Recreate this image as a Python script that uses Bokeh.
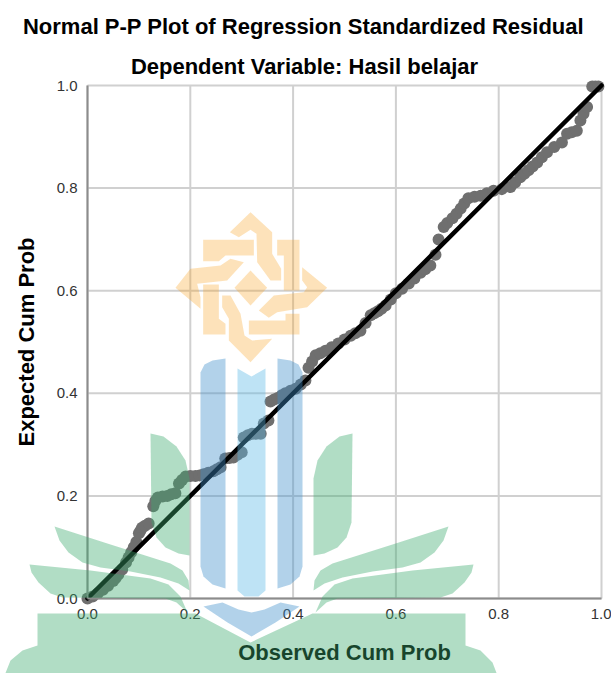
from bokeh.embed import file_html
from bokeh.resources import INLINE
from bokeh.plotting import figure
from bokeh.models import PolyAnnotation, Label, ColumnDataSource, FixedTicker, NumeralTickFormatter

TITLE = "Normal P-P Plot of Regression Standardized Residual"
SUBTITLE = "Dependent Variable: Hasil belajar"
X_LABEL = "Observed Cum Prob"
Y_LABEL = "Expected Cum Prob"
TICKS = [0.0, 0.2, 0.4, 0.6, 0.8, 1.0]
REF_LINE_X = [0.0, 1.0]
REF_LINE_Y = [0.0, 1.0]

observed = [0.0, 0.01, 0.02, 0.03, 0.04, 0.05, 0.055, 0.06, 0.0675, 0.075, 0.08, 0.085, 0.09, 0.095,
            0.10, 0.103, 0.106, 0.112, 0.119, 0.128, 0.132, 0.137, 0.146, 0.155, 0.163, 0.171, 0.178,
            0.184, 0.191, 0.20, 0.21, 0.218, 0.226, 0.235, 0.245, 0.252,
            0.259, 0.268, 0.276, 0.284, 0.292, 0.30, 0.304, 0.312, 0.32, 0.328, 0.337, 0.343, 0.352,
            0.356, 0.363, 0.37, 0.378, 0.385, 0.395,
            0.405, 0.415, 0.424, 0.43, 0.437, 0.444, 0.453, 0.463, 0.475, 0.488, 0.50, 0.512, 0.521,
            0.531, 0.541, 0.551, 0.558, 0.565, 0.572, 0.58, 0.59, 0.60, 0.612,
            0.625, 0.636, 0.648, 0.657, 0.667, 0.677, 0.683, 0.693, 0.70, 0.71, 0.718, 0.726, 0.733,
            0.741, 0.753, 0.765, 0.777, 0.79, 0.806, 0.823,
            0.832, 0.842, 0.85, 0.858, 0.866, 0.875, 0.884, 0.894, 0.908, 0.923, 0.933, 0.942, 0.952,
            0.959, 0.965, 0.972, 0.982, 0.988, 0.994]
expected = [0.0, 0.004, 0.01, 0.017, 0.025, 0.034, 0.04, 0.047, 0.0565, 0.07, 0.08, 0.09, 0.10, 0.11,
            0.127, 0.132, 0.138, 0.142, 0.146, 0.18, 0.19, 0.197, 0.199, 0.20, 0.203, 0.205, 0.224,
            0.231, 0.238, 0.239, 0.239, 0.24, 0.242, 0.245, 0.248, 0.252,
            0.256, 0.273, 0.274, 0.275, 0.28, 0.285, 0.314, 0.318, 0.321, 0.321, 0.321, 0.341, 0.347,
            0.384, 0.388, 0.391, 0.396, 0.40, 0.405,
            0.409, 0.417, 0.425, 0.45, 0.462, 0.474, 0.478, 0.483, 0.49, 0.497, 0.505, 0.512, 0.517,
            0.522, 0.537, 0.552, 0.556, 0.56, 0.565, 0.571, 0.583, 0.595, 0.604,
            0.614, 0.624, 0.635, 0.642, 0.649, 0.67, 0.70, 0.724, 0.732, 0.741, 0.75, 0.76, 0.77,
            0.78, 0.783, 0.785, 0.79, 0.795, 0.798, 0.802,
            0.811, 0.821, 0.828, 0.835, 0.842, 0.85, 0.86, 0.87, 0.88, 0.889, 0.906, 0.909, 0.912,
            0.932, 0.945, 0.958, 0.998, 0.998, 0.998]

W, H = 611, 673
# pixel position of the unit square inside the picture
PX_LEFT, PX_RIGHT, PX_TOP, PX_BOTTOM = 87, 601, 85, 598
UX = PX_RIGHT - PX_LEFT
UY = PX_BOTTOM - PX_TOP
AXIS_X = 251  # symmetry axis of the background emblem

p = figure(frame_width=W, frame_height=H, output_backend="svg", toolbar_location=None,
           x_range=(-PX_LEFT / UX, (W - PX_LEFT) / UX),
           y_range=(-(H - PX_BOTTOM) / UY, PX_BOTTOM / UY),
           min_border=0, x_axis_location="below", y_axis_location="left")
p.background_fill_color = "white"
p.border_fill_color = "white"
p.outline_line_color = None
p.xgrid.visible = False
p.ygrid.visible = False

for ax, lab in ((p.xaxis[0], X_LABEL), (p.yaxis[0], Y_LABEL)):
    ax.fixed_location = 0
    ax.bounds = (0, 1)
    ax.ticker = FixedTicker(ticks=TICKS)
    ax.formatter = NumeralTickFormatter(format="0.0")
    ax.major_tick_line_color = None
    ax.minor_tick_line_color = None
    ax.axis_line_color = "#8c8c8c"
    ax.axis_line_width = 2
    ax.major_label_text_font = "Liberation Sans"
    ax.major_label_text_font_size = "15px"
    ax.major_label_text_color = "#333333"
    ax.major_label_standoff = 4
    ax.axis_label = lab
    ax.axis_label_text_font = "Liberation Sans"
    ax.axis_label_text_font_style = "bold"
    ax.axis_label_text_font_size = "22px"
    ax.axis_label_text_color = "black"
p.xaxis[0].axis_label_standoff = 18
p.yaxis[0].axis_label_standoff = 15

grid_src = ColumnDataSource(dict(t=TICKS, lo=[TICKS[0]] * len(TICKS), hi=[TICKS[-1]] * len(TICKS)))
p.segment(x0="t", x1="t", y0="lo", y1="hi", source=grid_src, line_color="#d0d0d0", line_width=2, level="underlay")
p.segment(x0="lo", x1="hi", y0="t", y1="t", source=grid_src, line_color="#d0d0d0", line_width=2, level="underlay")

src = ColumnDataSource(dict(x=observed, y=expected))
p.scatter("x", "y", source=src, size=12, color="#6f6f6f", line_width=0)
p.line(REF_LINE_X, REF_LINE_Y, line_color="black", line_width=4.5, line_cap="round")

for text, cx, cy in ((TITLE, 303, 26), (SUBTITLE, 304, 66)):
    p.add_layout(Label(x=cx, y=cy, x_units="canvas", y_units="canvas", text=text,
                       text_font="Liberation Sans", text_font_style="bold", text_font_size="22px",
                       text_color="black", text_align="center", text_baseline="middle"))

GREEN, BLUE, SKY, GOLD = "#3cab6e", "#3e8eca", "#5cb9e6", "#f89e19"

tall_leaf = [(150, 433), (163, 436), (176, 446), (185, 460), (189, 478), (189, 555), (178, 553), (165, 547),
             (156, 537), (151, 522)]
mid_leaf = [(54, 526), (110, 544), (170, 563), (182, 570), (188, 580), (189, 590), (178, 583), (160, 577),
            (130, 571), (100, 567), (82, 562), (68, 552), (59, 540)]
low_leaf = [(29, 564), (90, 570), (150, 578), (168, 584), (180, 596), (187, 612), (176, 602), (165, 598),
            (62, 597), (50, 593), (38, 582), (31, 572)]
base = [(37, 613), (195, 613), (250, 642), (312, 613), (465, 613), (465, 645), (480, 650),
        (492, 662), (497, 675), (4, 675), (10, 660), (22, 650), (37, 645)]
blue_col = [(200, 372), (204, 364), (212, 360), (225, 358), (225, 588), (212, 584), (203, 576), (200, 566)]
sky_col = [(237, 368), (251, 376), (265, 368), (265, 590), (258, 596), (244, 596), (237, 590)]
chevron = [(203, 606), (222, 602), (238, 609), (251, 612), (264, 609), (280, 602), (299, 606),
           (275, 622), (251, 636), (227, 622)]

def mirror(pts):
    return [(2 * AXIS_X - x, y) for x, y in pts]

def star(pts):
    return [(150 + x / 3, 190 + y / 3) for x, y in pts]

emblem = [
    [(300, 240), (350, 292), (300, 345), (252, 292)],
    [(238, 125), (300, 65), (365, 125), (365, 190), (392, 235), (392, 270), (360, 270), (320, 215), (318, 130), (300, 118), (265, 140)],
    [(158, 148), (310, 148), (310, 195), (225, 195), (205, 212), (158, 212)],
    [(380, 148), (447, 148), (447, 300), (400, 300), (400, 195), (380, 195)],
    [(75, 292), (120, 235), (210, 225), (240, 205), (280, 215), (230, 270), (140, 280), (150, 320), (150, 355)],
    [(158, 282), (205, 282), (205, 385), (225, 400), (225, 432), (158, 432)],
    [(215, 315), (240, 315), (270, 370), (282, 435), (305, 450), (365, 445), (300, 515), (235, 450), (235, 385), (215, 350)],
    [(295, 390), (405, 390), (405, 370), (447, 370), (447, 432), (295, 432)],
    [(455, 230), (530, 292), (470, 350), (380, 365), (355, 382), (325, 360), (370, 315), (460, 305), (470, 290), (455, 270)],
]

shapes = [(s, GREEN, 0.4) for s in (tall_leaf, mirror(tall_leaf), mid_leaf, mirror(mid_leaf),
                                    low_leaf, mirror(low_leaf), base)]
shapes += [(blue_col, BLUE, 0.4), (mirror(blue_col), BLUE, 0.4), (chevron, BLUE, 0.4), (sky_col, SKY, 0.4)]
shapes += [(star(s), GOLD, 0.3) for s in emblem]

for pts, col, a in shapes:
    p.add_layout(PolyAnnotation(xs=[x for x, _ in pts], ys=[y for _, y in pts],
                                xs_units="canvas", ys_units="canvas",
                                fill_color=col, fill_alpha=a, line_color=None, level="overlay"))

open("out.html", "w").write(file_html(p, INLINE))
